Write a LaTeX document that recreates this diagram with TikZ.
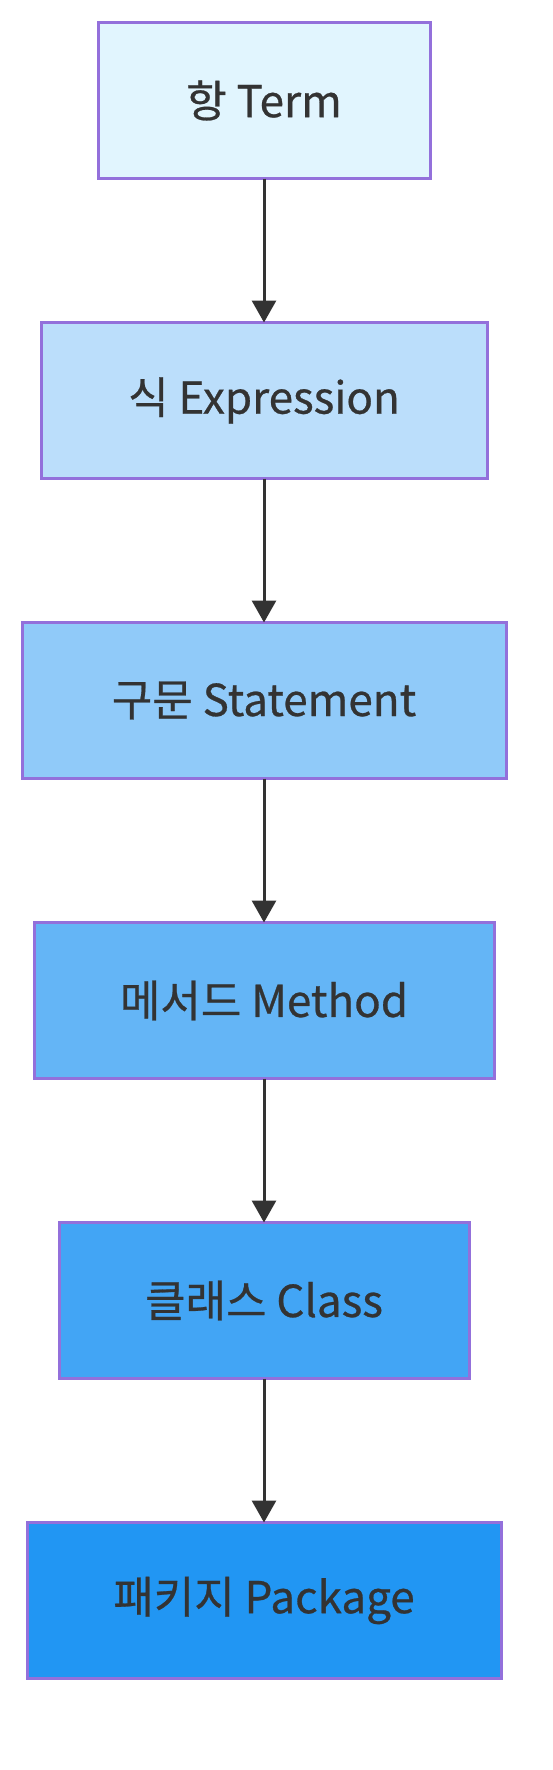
\documentclass[tikz,border=0pt]{standalone}
\usepackage{fontspec}
\setmainfont{Noto Sans CJK KR}[FakeBold=0.6]
\usetikzlibrary{arrows.meta}
\definecolor{bordc}{HTML}{9370DB}
\definecolor{txt}{HTML}{333333}
\definecolor{cA}{HTML}{E1F5FE}
\definecolor{cB}{HTML}{BBDEFB}
\definecolor{cC}{HTML}{90CAF9}
\definecolor{cD}{HTML}{64B5F6}
\definecolor{cE}{HTML}{42A5F5}
\definecolor{cF}{HTML}{2196F3}
\begin{document}
\begin{tikzpicture}[x=1pt,y=-1pt,
  box/.style={draw=bordc, line width=3pt, minimum height=156pt, inner sep=0pt, outer sep=0pt, text=txt, font=\fontsize{44}{53}\selectfont},
  conn/.style={draw=txt, line width=3pt, -{Triangle[width=24pt,length=22pt]}}]
\useasboundingbox[fill=white] (0,0) rectangle (552,1770);
\node[box, fill=cA, minimum width=332pt] (term) at (264,100.5) {항 Term};
\node[box, fill=cB, minimum width=446pt] (expr) at (264,400.5) {식 Expression};
\node[box, fill=cC, minimum width=484pt] (stmt) at (264,700.5) {구문 Statement};
\node[box, fill=cD, minimum width=460pt] (meth) at (264,1000.5) {메서드 Method};
\node[box, fill=cE, minimum width=410pt] (cls) at (264,1300.5) {클래스 Class};
\node[box, fill=cF, minimum width=474pt] (pkg) at (264,1600.5) {패키지 Package};
\draw[conn] (term.south) -- (expr.north);
\draw[conn] (expr.south) -- (stmt.north);
\draw[conn] (stmt.south) -- (meth.north);
\draw[conn] (meth.south) -- (cls.north);
\draw[conn] (cls.south) -- (pkg.north);
\end{tikzpicture}
\end{document}
